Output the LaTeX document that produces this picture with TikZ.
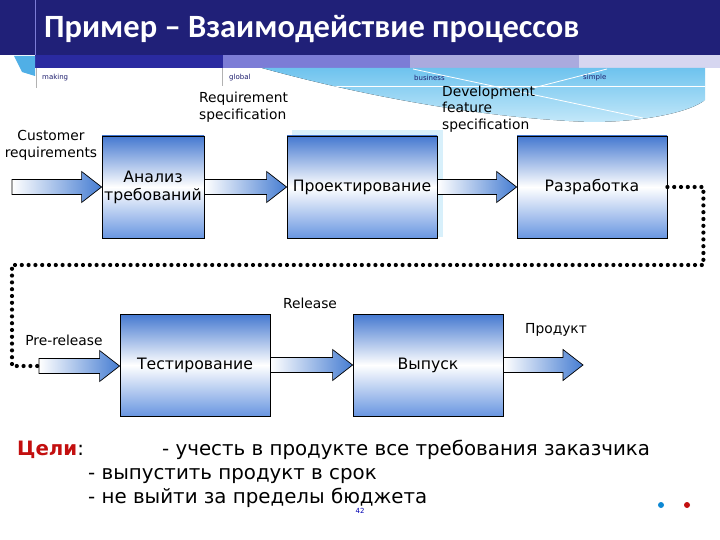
\documentclass[tikz,border=0pt]{standalone}
\usepackage{fontspec}
\setmainfont{DejaVu Sans}
\newfontfamily\calibri{Carlito}
\usetikzlibrary{calc}
\definecolor{navy}{RGB}{32,32,120}
\definecolor{barA}{RGB}{42,42,160}
\definecolor{barB}{RGB}{124,124,214}
\definecolor{barC}{RGB}{170,170,222}
\definecolor{barD}{RGB}{214,214,240}
\definecolor{wavedark}{RGB}{110,195,238}
\definecolor{wavelight}{RGB}{200,234,250}
\definecolor{boxtop}{RGB}{68,120,208}
\definecolor{boxbot}{RGB}{105,150,225}
\definecolor{arrowblue}{RGB}{70,125,210}
\definecolor{goalred}{RGB}{195,15,15}
\definecolor{labnavy}{RGB}{30,30,110}
\definecolor{tabblue}{RGB}{80,175,230}
\newcommand\blockarr[2]{%
  \path[blockarrow] let \p1=(#1), \p2=(#2) in
    (\x1,\y1+7.5pt) -- (\x2-20pt,\y1+7.5pt) -- (\x2-20pt,\y1+15.5pt) -- (\x2,\y1)
    -- (\x2-20pt,\y1-15.5pt) -- (\x2-20pt,\y1-7.5pt) -- (\x1,\y1-7.5pt) -- cycle;}
\begin{document}
\begin{tikzpicture}[x=1pt,y=-1pt,
  procbox/.style={draw=black, line width=0.8pt, top color=boxtop, bottom color=boxbot,
    middle color=white, minimum width=150pt, minimum height=102pt, inner sep=0pt,
    align=center, font=\fontsize{15.7}{18}\selectfont},
  blockarrow/.style={draw=black, line width=0.7pt, left color=white, right color=arrowblue},
  lbl/.style={font=\fontsize{13.8}{16.7}\selectfont, inner sep=0pt},
  tiny/.style={font=\fontsize{7}{8}\selectfont, text=labnavy, inner sep=0pt, anchor=west},
  dotline/.style={line width=4.2pt, line cap=round, dash pattern=on 0pt off 6.8pt},
  goal/.style={font=\fontsize{19.8}{24}\selectfont, inner sep=0pt, anchor=base west}]
\useasboundingbox (0,0) rectangle (720,540);
\fill[white] (0,0) rectangle (720,540);
% header
\fill[navy] (0,0) rectangle (720,55);
\draw[barB, line width=0.7pt] (35,0) -- (35,55);
\fill[barA] (35,55) rectangle (223,68);
\fill[barB] (223,55) rectangle (410,68);
\fill[barC] (410,55) rectangle (579,68);
\fill[barD] (579,55) rectangle (720,68);
\fill[tabblue] (14,56) -- (35,56) -- (35,76) -- (22,72) -- cycle;
% wave
\begin{scope}
\clip (262,68) -- (705,68) -- (705,100) .. controls (690,112) and (645,122) .. (590,122)
  .. controls (480,118) and (360,95) .. (262,68) -- cycle;
\fill[top color=wavedark, bottom color=wavelight] (260,68) rectangle (705,125);
\draw[white, line width=0.8pt] (260,86) -- (705,86);
\draw[white, line width=0.8pt] (413,69) -- (643,118);
\draw[white, line width=0.8pt] (607,69) -- (533,88);
\end{scope}
\draw[gray!60, line width=0.6pt] (36,68) -- (36,88);
\draw[gray!60, line width=0.6pt] (222,68) -- (222,86);
\node[anchor=west, inner sep=0pt, text=white, font=\calibri\bfseries\fontsize{32.5}{34}\selectfont] (title) at (44,29) {Пример – Взаимодействие процессов};
\node[tiny] (m1) at (42,78) {making};
\node[tiny] (m2) at (229,78) {global};
\node[tiny] (m3) at (414,78) {business};
\node[tiny] (m4) at (583,78) {simple};
% glow
\fill[wavelight!70!white] (292,130) rectangle (443,237);
% boxes
\node[procbox, minimum width=102pt] (an) at (153,187) {Анализ\\требований};
\node[procbox] (pr) at (362,187) {Проектирование};
\node[procbox] (rz) at (592,187) {Разработка};
\node[procbox] (ts) at (195,365) {Тестирование};
\node[procbox] (vy) at (428,365) {Выпуск};
% free ends
\coordinate (cin) at (12,187);
\coordinate (pre) at (39,366);
\coordinate (out) at (583,368);
% arrows
\blockarr{cin}{an.west}
\blockarr{an.east}{pr.west}
\blockarr{pr.east}{rz.west}
\blockarr{pre}{ts.west}
\blockarr{ts.east}{vy.west}
\blockarr{vy.east}{out}
% dotted
\draw[dotline] (rz.east) -- ++(36,0) |- (12,265) |- (pre);
% labels
\node[lbl, align=center] (l1) at (51,145) {Customer\\requirements};
\node[lbl, align=left, anchor=west] (l2) at (199,107.5) {Requirement\\specification};
\node[lbl, align=left, anchor=west] (l3) at (442,109) {Development\\feature\\specification};
\node[lbl] (l4) at (310,303) {Release};
\node[lbl] (l5) at (64,340) {Pre-release};
\node[lbl] (l6) at (556,330) {Продукт};
% goals
\node[goal] (g0) at (17,455) {\textcolor{goalred}{\bfseries Цели}:};
\node[goal] (g1) at (162,455) {- учесть в продукте все требования заказчика};
\node[goal] (g2) at (88,479) {- выпустить продукт в срок};
\node[goal] (g3) at (88,503) {- не выйти за пределы бюджета};
\node[inner sep=0pt, text=blue!70!black, font=\fontsize{7}{8}\selectfont] (pg) at (360,511) {42};
\fill[cyan!70!blue] (661,505) circle (3);
\fill[goalred] (687,505) circle (3);
\end{tikzpicture}
\end{document}
